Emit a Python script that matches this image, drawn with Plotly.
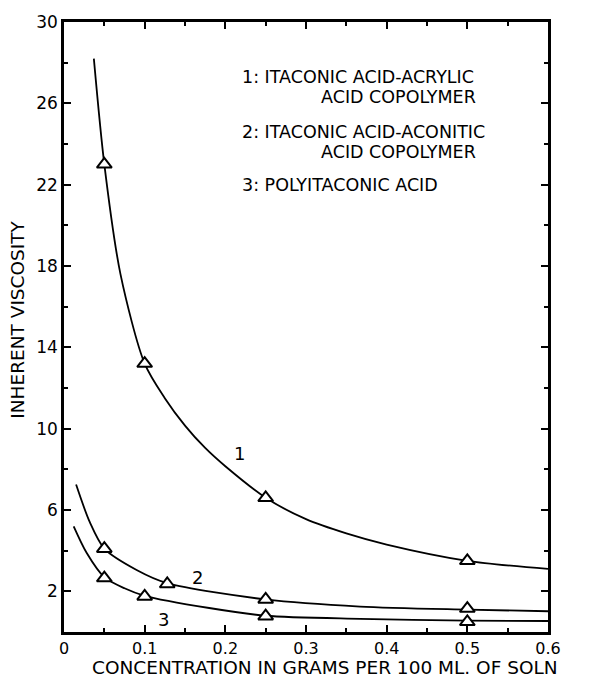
import plotly.graph_objects as go

# Measured points (triangles)
s1_x = [0.05, 0.10, 0.25, 0.50]
s1_y = [23.0, 13.2, 6.6, 3.5]
s2_x = [0.05, 0.128, 0.25, 0.50]
s2_y = [4.1, 2.36, 1.6, 1.15]
s3_x = [0.05, 0.10, 0.25, 0.50]
s3_y = [2.65, 1.75, 0.78, 0.5]

# Drawn curves
c1_x = [0.037, 0.05, 0.07, 0.10, 0.125, 0.15, 0.175, 0.20, 0.25, 0.30, 0.35, 0.40, 0.50, 0.60]
c1_y = [28.2, 23.0, 17.6, 13.2, 11.5, 10.15, 9.05, 8.15, 6.6, 5.55, 4.85, 4.3, 3.5, 3.1]
c2_x = [0.015, 0.032, 0.05, 0.09, 0.128, 0.25, 0.367, 0.50, 0.60]
c2_y = [7.25, 5.4, 4.1, 3.05, 2.4, 1.6, 1.25, 1.1, 1.02]
c3_x = [0.012, 0.028, 0.05, 0.075, 0.10, 0.18, 0.25, 0.367, 0.50, 0.60]
c3_y = [5.2, 3.9, 2.7, 2.15, 1.78, 1.18, 0.8, 0.65, 0.56, 0.54]

x_tickvals = [0, 0.1, 0.2, 0.3, 0.4, 0.5, 0.6]
x_ticktext = ["0", "0.1", "0.2", "0.3", "0.4", "0.5", "0.6"]
x_minor = [0.05, 0.15, 0.25, 0.35, 0.45, 0.55]
y_tickvals = [2, 6, 10, 14, 18, 22, 26, 30]
y_minor = [4, 8, 12, 16, 20, 24, 28]

curve_labels = ["1", "2", "3"]
label_x = [0.218, 0.165, 0.123]
label_y = [8.8, 2.7, 0.6]

legend_lines = ["1: ITACONIC ACID-ACRYLIC", "ACID COPOLYMER",
                "2: ITACONIC ACID-ACONITIC", "ACID COPOLYMER",
                "3: POLYITACONIC ACID"]

FONT = "DejaVu Sans"
fig = go.Figure()
for cx, cy in [(c1_x, c1_y), (c2_x, c2_y), (c3_x, c3_y)]:
    fig.add_trace(go.Scatter(x=cx, y=cy, mode="lines",
                             line=dict(color="black", width=1.8, shape="spline", smoothing=0.8),
                             showlegend=False, hoverinfo="skip"))
for px_, py_ in [(s1_x, s1_y), (s2_x, s2_y), (s3_x, s3_y)]:
    fig.add_trace(go.Scatter(x=px_, y=py_, mode="markers",
                             marker=dict(symbol="triangle-up", size=13, color="white",
                                         line=dict(color="black", width=2)),
                             showlegend=False))

ann = []
for t, lx, ly in zip(curve_labels, label_x, label_y):
    ann.append(dict(x=lx, y=ly, xref="x", yref="y", text=t, showarrow=False,
                    font=dict(family=FONT, size=18, color="black")))

# legend-like text block
leg_pos = [(0.218, 27.3, "left"), (0.513, 26.3, "right"),
           (0.218, 24.6, "left"), (0.513, 23.6, "right"),
           (0.218, 22.0, "left")]
for t, (lx, ly, anc) in zip(legend_lines, leg_pos):
    ann.append(dict(x=lx, y=ly, xref="x", yref="y", text=t, showarrow=False,
                    xanchor=anc, font=dict(family=FONT, size=17.5, color="black")))

ann.append(dict(x=0.539, y=-0.058, xref="paper", yref="paper",
                text="CONCENTRATION IN GRAMS PER 100 ML. OF SOLN", showarrow=False,
                xanchor="center", yanchor="middle",
                font=dict(family=FONT, size=18.5, color="black")))
ann.append(dict(x=-0.095, y=0.512, xref="paper", yref="paper",
                text="INHERENT VISCOSITY", showarrow=False, textangle=-90,
                xanchor="center", yanchor="middle",
                font=dict(family=FONT, size=18.5, color="black")))

fig.update_layout(
    width=586, height=669,
    margin=dict(l=56, r=46, t=14, b=45, autoexpand=False),
    paper_bgcolor="white", plot_bgcolor="white",
    annotations=ann,
    xaxis=dict(range=[0, 0.6], tickvals=x_tickvals, ticktext=x_ticktext,
               automargin=False,
               ticks="inside", ticklen=7, tickwidth=1.5, tickcolor="black",
               minor=dict(tickvals=x_minor, ticks="inside", ticklen=4, tickcolor="black"),
               showline=True, linecolor="black", linewidth=2.5, mirror="ticks",
               showgrid=False, zeroline=False,
               tickfont=dict(family=FONT, size=16, color="black")),
    yaxis=dict(range=[0, 30], tickvals=y_tickvals,
               automargin=False,
               ticks="inside", ticklen=7, tickwidth=1.5, tickcolor="black",
               minor=dict(tickvals=y_minor, ticks="inside", ticklen=4, tickcolor="black"),
               showline=True, linecolor="black", linewidth=2.5, mirror="ticks",
               showgrid=False, zeroline=False,
               tickfont=dict(family=FONT, size=17, color="black")),
)
fig.write_html("out.html")
